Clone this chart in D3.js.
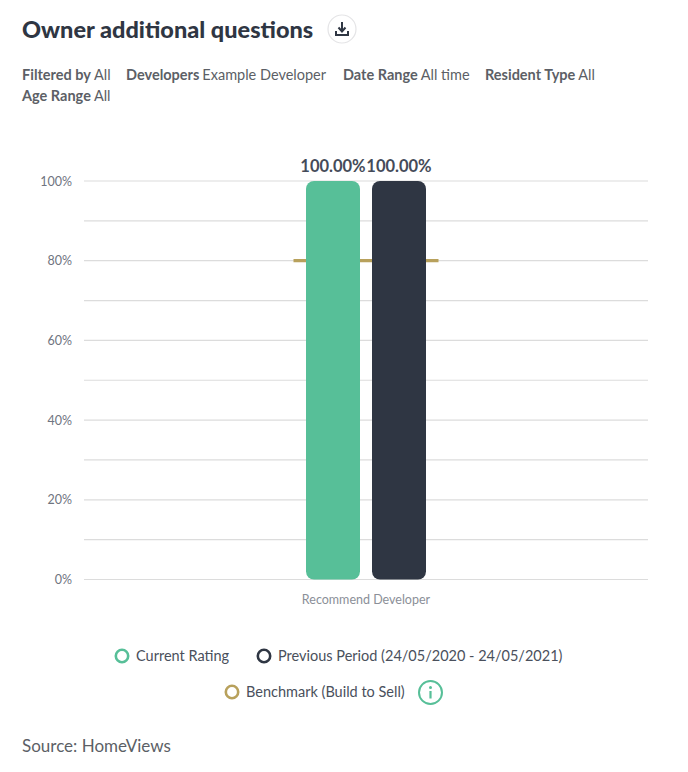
<!DOCTYPE html>
<html><head><meta charset="utf-8">
<script src="https://cdn.jsdelivr.net/npm/d3@7/dist/d3.min.js"></script>
<style>html,body{margin:0;padding:0;background:#fff}svg{display:block}text{font-family:Lato,sans-serif}</style>
</head><body><svg id="c" width="688" height="772"></svg>
<script>
const categories = ["Recommend Developer"];
const seriesNames = ["Current Rating", "Previous Period (24/05/2020 - 24/05/2021)"];
const currentValues = [100];
const previousValues = [100];
const benchmarkValues = [80];
const yTicks = [0,10,20,30,40,50,60,70,80,90,100];
const yLabels = [0,20,40,60,80,100];
const filterLine1 = [["Filtered by","All"],["Developers","Example Developer"],["Date Range","All time"],["Resident Type","All"]];
const filterLine2 = [["Age Range","All"]];
const seriesColors = ["#57bf98","#2f3643"];
const benchColor = "#b8a15c";

const svg = d3.select("#c");
const dark="#2f3643", grey="#5c5f66";
const y = d3.scaleLinear().domain([0,100]).range([579.5,181]);
const x0 = d3.scaleBand().domain(categories).range([84,648]).paddingInner(0).paddingOuter(1.85);
const x1 = d3.scaleBand().domain(seriesNames).range([0,x0.bandwidth()]).paddingInner(12/66).paddingOuter(0);

// header
svg.append("text").attr("x",22).attr("y",38).attr("font-size",23.5).attr("font-weight",900).attr("fill",dark).text("Owner additional questions");
const dl = svg.append("g").attr("transform","translate(342,29)");
dl.append("circle").attr("r",14).attr("fill","#fff").attr("stroke","#e4e4e6").attr("stroke-width",1.2);
dl.append("path").attr("d","M0,-7V2M-3.5,-1.5L0,2.5L3.5,-1.5").attr("fill","none").attr("stroke",dark).attr("stroke-width",2);
dl.append("path").attr("d","M-6,2V6H6V2").attr("fill","none").attr("stroke",dark).attr("stroke-width",2);

function filterRow(items, startX, yy, positions){
  items.forEach((d,i)=>{
    const t = svg.append("text").attr("x",positions[i]).attr("y",yy).attr("font-size",14.5).attr("fill",grey);
    t.append("tspan").attr("font-weight",700).text(d[0]);
    t.append("tspan").attr("dx",3).text(d[1]);
  });
}
filterRow(filterLine1,22,80,[22,126,343,485]);
filterRow(filterLine2,22,101,[22]);

// grid
svg.append("g").selectAll("line").data(yTicks).join("line")
  .attr("x1",84).attr("x2",648).attr("y1",d=>y(d)).attr("y2",d=>y(d))
  .attr("stroke","#dcdcdc").attr("stroke-width",1.2);
svg.append("g").selectAll("text").data(yLabels).join("text")
  .attr("x",72).attr("y",d=>y(d)+4.5).attr("text-anchor","end").attr("font-size",12.5).attr("fill","#6f7480").text(d=>d+"%");

// benchmark
const bc = x0(categories[0])+x0.bandwidth()/2;
svg.append("g").selectAll("line").data(benchmarkValues).join("line")
  .attr("x1",bc-72.5).attr("x2",bc+72.5).attr("y1",d=>y(d)).attr("y2",d=>y(d))
  .attr("stroke",benchColor).attr("stroke-width",3.2);

// bars
[currentValues,previousValues].forEach((vals,s)=>{
  const g = svg.append("g");
  g.selectAll("rect").data(vals).join("rect")
    .attr("x",(d,i)=>x0(categories[i])+x1(seriesNames[s])).attr("width",x1.bandwidth())
    .attr("y",d=>y(d)).attr("height",d=>y(0)-y(d)).attr("rx",8).attr("fill",seriesColors[s]);
  g.selectAll("text").data(vals).join("text")
    .attr("x",(d,i)=>x0(categories[i])+x1(seriesNames[s])+x1.bandwidth()/2).attr("y",d=>y(d)-9)
    .attr("text-anchor","middle").attr("font-size",16.5).attr("font-weight",700).attr("fill","#454b59")
    .text(d=>d.toFixed(2)+"%");
});

// category label
svg.append("g").selectAll("text").data(categories).join("text")
  .attr("x",d=>x0(d)+x0.bandwidth()/2).attr("y",604).attr("text-anchor","middle")
  .attr("font-size",12.5).attr("fill","#8b8f98").text(d=>d);

// legend
const legendItems = [
  {name:seriesNames[0],cx:122,cy:656,c:seriesColors[0],tx:136},
  {name:seriesNames[1],cx:264,cy:656,c:seriesColors[1],tx:278},
  {name:"Benchmark (Build to Sell)",cx:232,cy:692,c:benchColor,tx:246}
];
const lg = svg.append("g");
lg.selectAll("circle").data(legendItems).join("circle")
  .attr("cx",d=>d.cx).attr("cy",d=>d.cy).attr("r",6.2).attr("fill","none").attr("stroke",d=>d.c).attr("stroke-width",2.6);
lg.selectAll("text").data(legendItems).join("text")
  .attr("x",d=>d.tx).attr("y",d=>d.cy+5).attr("font-size",14.5).attr("fill","#4a505c").text(d=>d.name);

// info icon
const info = svg.append("g").attr("transform","translate(430.5,692.5)");
info.append("circle").attr("r",11.5).attr("fill","none").attr("stroke",seriesColors[0]).attr("stroke-width",2);
info.append("circle").attr("cy",-5).attr("r",1.5).attr("fill",seriesColors[0]);
info.append("line").attr("y1",-1.5).attr("y2",6).attr("stroke",seriesColors[0]).attr("stroke-width",2.2);

svg.append("text").attr("x",22).attr("y",752).attr("font-size",17).attr("fill","#5c5f66").text("Source: HomeViews");
</script></body></html>
